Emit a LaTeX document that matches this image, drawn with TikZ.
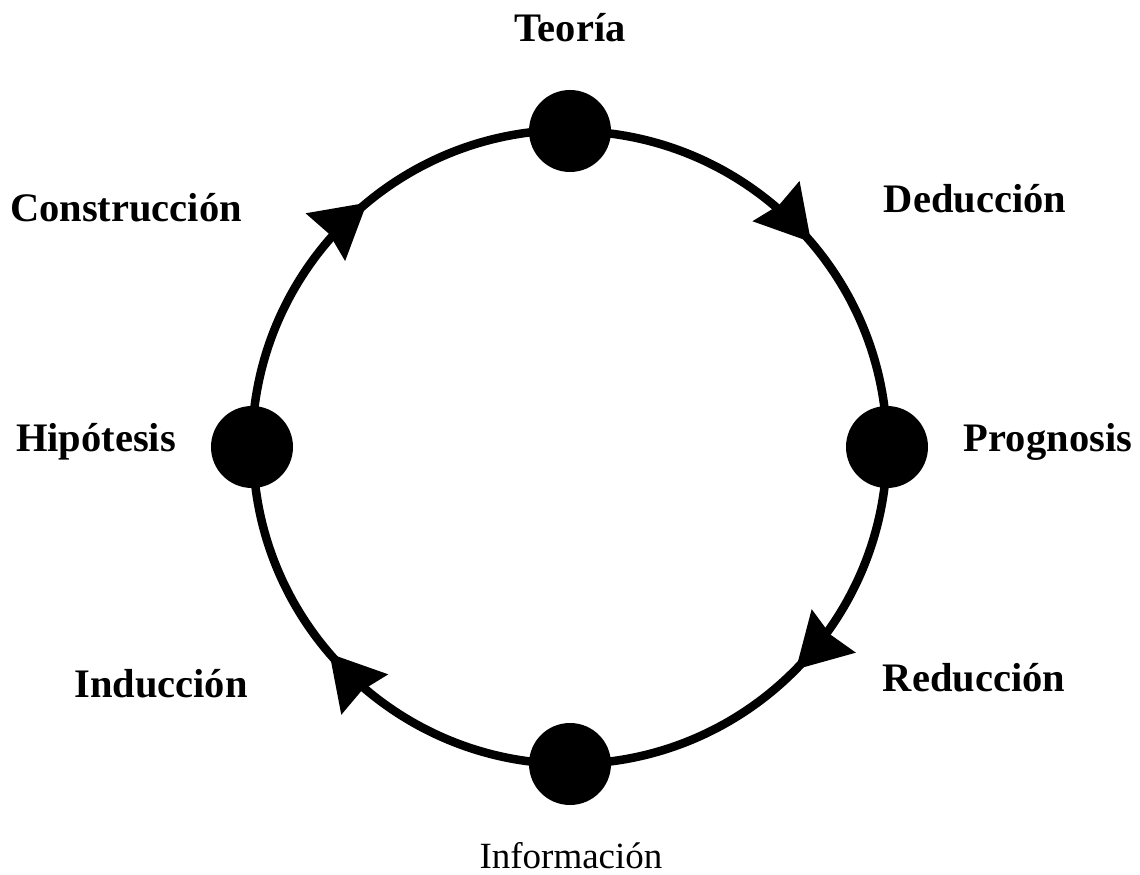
\documentclass[tikz,border=0pt]{standalone}
\usepackage{fontspec}
\setmainfont{Liberation Serif}
\usetikzlibrary{arrows.meta,decorations.markings}
\begin{document}
\begin{tikzpicture}[x=1pt,y=1pt,
  dot/.style={circle,fill=black,inner sep=0pt,minimum size=82pt},
  lbl/.style={font=\fontsize{40.5}{44}\selectfont\bfseries,anchor=base,inner sep=0pt},
  lblreg/.style={font=\fontsize{37}{44}\selectfont,anchor=base,inner sep=0pt},
  ring/.style={line width=8.5pt,draw=black},
  tipat/.style={decoration={markings,
      mark=at position #1 with {\arrow{Stealth[length=54pt,width=62pt,inset=5pt,line width=0pt]}}},
      postaction={decorate}}]
  \useasboundingbox (-570,-428) rectangle (570,447);

  % stations of the cycle
  \node[dot] (teo) at (0,316) {};
  \node[dot] (pro) at (317,0) {};
  \node[dot] (inf) at (0,-317) {};
  \node[dot] (hip) at (-318,0) {};

  % arcs, clockwise
  \draw[ring,tipat=0.55] (teo.center) arc[start angle=90,end angle=0,radius=317];
  \draw[ring,tipat=0.495] (pro.center) arc[start angle=0,end angle=-90,radius=317];
  \draw[ring,tipat=0.548] (inf.center) arc[start angle=-90,end angle=-180,radius=317];
  \draw[ring,tipat=0.56] (hip.center) arc[start angle=180,end angle=90,radius=317];

  % labels
  \node[lbl] (lteo) at (0,405) {Teoría};
  \node[lbl] (lded) at (405,234) {Deducción};
  \node[lbl] (lpro) at (478,-5) {Prognosis};
  \node[lbl] (lred) at (404,-244) {Reducción};
  \node[lblreg] (linf) at (1,-421) {Información};
  \node[lbl] (lind) at (-409,-250) {Inducción};
  \node[lbl] (lhip) at (-474,-5) {Hipótesis};
  \node[lbl] (lcon) at (-444,225) {Construcción};
\end{tikzpicture}
\end{document}
